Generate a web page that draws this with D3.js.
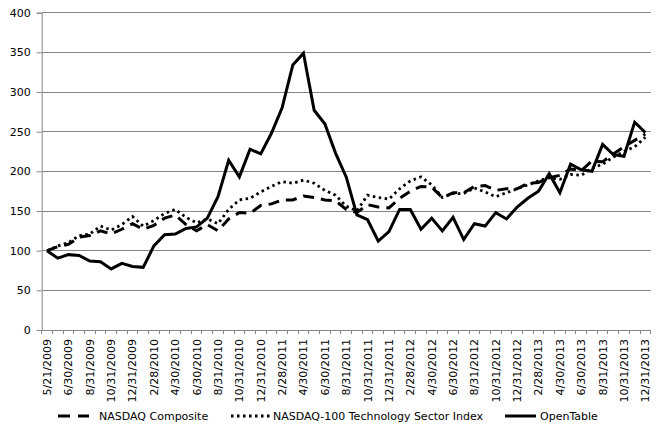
<!DOCTYPE html>
<html><head><meta charset="utf-8">
<script src="https://cdn.jsdelivr.net/npm/d3@7"></script>
<style>
html,body{margin:0;padding:0;background:#fff;}
svg text{font-family:"DejaVu Sans",Verdana,sans-serif;fill:#000;}
</style></head>
<body><svg id="c" width="665" height="436"></svg>
<script>
const categories = ["5/21/2009","5/31/2009","6/30/2009","7/31/2009","8/31/2009","9/30/2009","10/31/2009","11/30/2009","12/31/2009",
"1/31/2010","2/28/2010","3/31/2010","4/30/2010","5/31/2010","6/30/2010","7/31/2010","8/31/2010","9/30/2010","10/31/2010","11/30/2010","12/31/2010",
"1/31/2011","2/28/2011","3/31/2011","4/30/2011","5/31/2011","6/30/2011","7/31/2011","8/31/2011","9/30/2011","10/31/2011","11/30/2011","12/31/2011",
"1/31/2012","2/28/2012","3/31/2012","4/30/2012","5/31/2012","6/30/2012","7/31/2012","8/31/2012","9/30/2012","10/31/2012","11/30/2012","12/31/2012",
"1/31/2013","2/28/2013","3/31/2013","4/30/2013","5/31/2013","6/30/2013","7/31/2013","8/31/2013","9/30/2013","10/31/2013","11/30/2013","12/31/2013"];

const nasdaqComposite = [100,105,108,117,119,125,121,127,134,127,132,141,145,133,125,133,125,140,148,147,157,
159,164,164,169,167,164,163,152,148,158,155,154,166,175,181,180,167,173,173,181,182,176,178,178,
185,186,192,195,203,201,213,212,222,231,239,247];

const nasdaqTech = [100,106,110,119,121,131,126,133,143,131,138,147,152,142,135,140,134,152,164,166,174,
181,187,185,189,185,176,170,156,150,170,167,165,178,188,193,183,167,172,172,179,174,168,173,178,
183,188,192,190,196,195,204,209,218,225,231,243];

const openTable = [100,90.5,95,94,87,86,77,84,80,79,106,120,121,128,130,141,168,214,193,228,222,
248,280,334,349,277,260,223,193,145,139,112,124,152,152,127,141,125,142,114,134,131,148,140,155,
166,175,197,173,209,202,200,234,221,219,262,249];

const yTicks = [0,50,100,150,200,250,300,350,400];
const seriesNames = ["NASDAQ Composite","NASDAQ-100 Technology Sector Index","OpenTable"];

const svg = d3.select("#c");
const pLeft = 41.7, pRight = 650.7, pTop = 12.7, pBottom = 330;
const x = d3.scaleBand().domain(categories).range([pLeft, pRight]).padding(0);
const y = d3.scaleLinear().domain([0, 400]).range([pBottom, pTop]);
const cx = c => x(c) + x.bandwidth() / 2;
const grid = "#868686";

// gridlines
svg.append("g").selectAll("line").data(yTicks.filter(t => t > 0)).join("line")
  .attr("x1", pLeft).attr("x2", pRight).attr("y1", d => y(d)).attr("y2", d => y(d))
  .attr("stroke", grid).attr("stroke-width", 1).attr("shape-rendering", "crispEdges");

// y axis
const yAxis = d3.axisLeft(y).tickValues(yTicks).tickSize(5).tickPadding(6);
const gy = svg.append("g").attr("transform", `translate(${pLeft},0)`).call(yAxis);
gy.select(".domain").attr("stroke", grid);
gy.selectAll(".tick line").attr("stroke", grid);
gy.selectAll("text").attr("font-size", "11px").attr("font-family", "DejaVu Sans");

// x axis
svg.append("line").attr("x1", pLeft).attr("x2", pRight).attr("y1", pBottom).attr("y2", pBottom)
  .attr("stroke", grid).attr("shape-rendering", "crispEdges");
const bounds = categories.map(c => x(c)).concat([pRight]);
svg.append("g").selectAll("line").data(bounds).join("line")
  .attr("x1", d => d).attr("x2", d => d).attr("y1", pBottom).attr("y2", pBottom + 4)
  .attr("stroke", grid).attr("shape-rendering", "crispEdges");
svg.append("g").selectAll("text").data(categories.filter((c, i) => i % 2 === 0)).join("text")
  .attr("transform", d => `translate(${cx(d)},${pBottom + 9}) rotate(-90)`)
  .attr("text-anchor", "end").attr("dy", "0.36em")
  .attr("font-size", "11px").text(d => d);

// lines
const line = vals => d3.line().x((d, i) => cx(categories[i])).y(d => y(d))(vals);
const styles = [
  {data: nasdaqComposite, dash: "11,7", w: 3, cap: "butt"},
  {data: nasdaqTech, dash: "2.5,3.5", w: 2.8, cap: "butt"},
  {data: openTable, dash: null, w: 3, cap: "butt"}
];
styles.forEach(s => {
  svg.append("path").attr("d", line(s.data)).attr("fill", "none").attr("stroke", "#000")
    .attr("stroke-width", s.w).attr("stroke-dasharray", s.dash).attr("stroke-linejoin", "miter")
    .attr("stroke-linecap", s.cap);
});

// legend
const legendY = 416;
const legendPos = [{x0: 58, x1: 89, tx: 99}, {x0: 231, x1: 270, tx: 273}, {x0: 505, x1: 536, tx: 540}];
seriesNames.forEach((n, i) => {
  const p = legendPos[i], s = styles[i];
  svg.append("line").attr("x1", p.x0).attr("x2", p.x1).attr("y1", legendY).attr("y2", legendY)
    .attr("stroke", "#000").attr("stroke-width", s.w).attr("stroke-dasharray", i === 0 ? "12,8" : s.dash);
  svg.append("text").attr("x", p.tx).attr("y", legendY).attr("dy", "0.36em")
    .attr("font-size", "11px").text(n);
});
</script></body></html>
